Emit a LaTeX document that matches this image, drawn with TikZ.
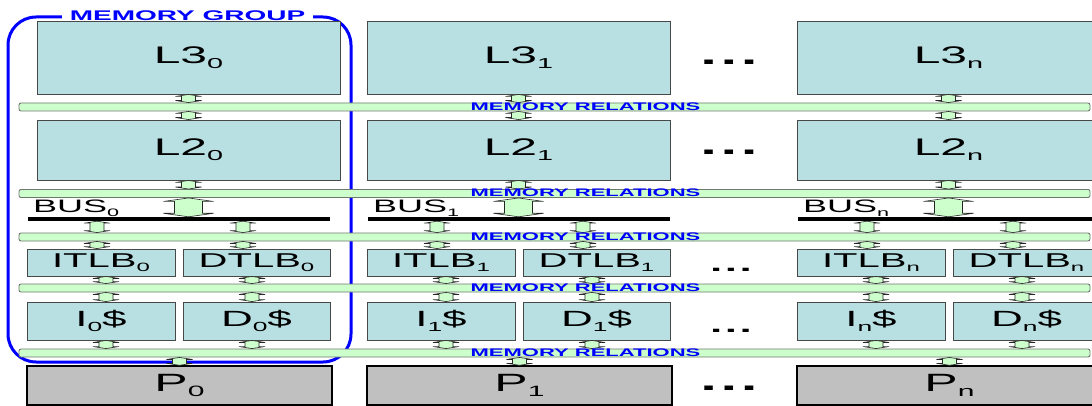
\documentclass[tikz,border=0pt]{standalone}
\usepackage{fontspec}
\setmainfont{Liberation Sans}
\usetikzlibrary{calc}

\definecolor{cachefill}{RGB}{184,223,226}
\definecolor{cacheline}{RGB}{72,72,72}
\definecolor{relfill}{RGB}{204,255,204}
\definecolor{relline}{RGB}{110,120,110}
\definecolor{groupblue}{RGB}{0,0,255}
\definecolor{cpufill}{RGB}{192,192,192}

% horizontally stretched lettering
\newcommand\wide[1]{\scalebox{2}[1]{#1}}
\newcommand\sub[1]{\raisebox{-0.2em}{\scalebox{0.6}{#1}}}
\newcommand\dotrow{.\kern0.06em.\kern0.06em.}

% vertical double-headed block arrow from point #1 down to point #2
% #3 half width of the heads, #4 half width of the shaft, #5 head depth
\newcommand\vlink[5]{%
  \path[linkarrow] let \p1=#1, \p2=#2 in
    (\x1,\y1) -- (\x1+#3,\y1-#5) -- (\x1+#4,\y1-#5) -- (\x1+#4,\y2+#5)
    -- (\x1+#3,\y2+#5) -- (\x1,\y2) -- (\x1-#3,\y2+#5) -- (\x1-#4,\y2+#5)
    -- (\x1-#4,\y1-#5) -- (\x1-#3,\y1-#5) -- cycle;}

\begin{document}
\begin{tikzpicture}[x=1pt, y=-1pt,
  cache/.style={draw=cacheline, fill=cachefill, line width=0.9pt, inner sep=0pt,
    font=\fontsize{24}{24}\selectfont},
  tlbcache/.style={cache, font=\fontsize{20}{20}\selectfont},
  l1cache/.style={cache, font=\fontsize{22}{22}\selectfont},
  cpu/.style={draw=black, fill=cpufill, line width=1.4pt, inner sep=0pt,
    font=\fontsize{25}{25}\selectfont},
  relbar/.style={draw=relline, fill=relfill, line width=0.9pt, rounded corners=2pt,
    minimum width=1071pt, minimum height=8pt, inner sep=0pt},
  rellabel/.style={text=groupblue, font=\fontsize{11}{11}\selectfont\bfseries, inner sep=0pt},
  linkarrow/.style={draw=black!85, fill=relfill, line width=0.6pt, line join=miter},
  busbar/.style={fill=black, inner sep=0pt, minimum height=4pt, minimum width=302pt},
  buslabel/.style={font=\fontsize{18}{18}\selectfont, inner sep=0pt, anchor=base west},
  groupline/.style={draw=groupblue, line width=3pt, rounded corners=28pt, inner sep=0pt},
  grouplabel/.style={fill=white, text=groupblue, font=\fontsize{14}{14}\selectfont\bfseries,
    inner xsep=8pt, inner ysep=0.5pt},
  ellipsis/.style={inner sep=0pt, font=\fontsize{30}{30}\selectfont\bfseries},
  smallellipsis/.style={inner sep=0pt, font=\fontsize{22}{22}\selectfont\bfseries}
]
\useasboundingbox (0,0) rectangle (1092,406);
\clip (0,0) rectangle (1092,406);

% memory group outline and its title
\node[groupline, minimum width=343pt, minimum height=345pt] (group) at (179.5,189.5) {};
\node[grouplabel] (group-title) at (187.5,15.5) {\wide{MEMORY GROUP}};

% memory relation bars
\node[relbar] (rel1) at (554.5,107) {};
\node[relbar] (rel2) at (554.5,193.5) {};
\node[relbar] (rel3) at (554.5,237) {};
\node[relbar] (rel4) at (554.5,288) {};
\node[relbar] (rel5) at (554.5,353) {};

% one column per processor: \ux shifts the shared levels, \lx the private ones
\foreach \col/\ux/\lx in {0/0/0, 1/330/340, n/760/770} {
  \node[cache, minimum width=303pt, minimum height=73pt] (l3-\col) at (188.5+\ux,57.5)
    {\wide{L3\sub{\col}}};
  \node[cache, minimum width=303pt, minimum height=60pt] (l2-\col) at (188.5+\ux,150)
    {\wide{L2\sub{\col}}};
  \node[busbar] (bus-\col) at (179+\lx,219) {};
  \node[buslabel] (buslbl-\col) at (33+\lx,213) {\wide{BUS\sub{\col}}};
  \node[tlbcache, minimum width=148pt, minimum height=27pt] (itlb-\col) at (101+\lx,262.5)
    {\wide{ITLB\sub{\col}}};
  \node[tlbcache, minimum width=147pt, minimum height=27pt] (dtlb-\col) at (256.5+\lx,262.5)
    {\wide{DTLB\sub{\col}}};
  \node[l1cache, minimum width=148pt, minimum height=38pt] (ic-\col) at (101+\lx,321)
    {\wide{I\sub{\col}\$}};
  \node[l1cache, minimum width=147pt, minimum height=38pt] (dc-\col) at (256.5+\lx,321)
    {\wide{D\sub{\col}\$}};
  \node[cpu, minimum width=305pt, minimum height=39pt] (p-\col) at (179.5+\lx,385.5)
    {\wide{P\sub{\col}}};

  % x positions of the links in the private levels
  \coordinate (ta-\col) at (97+\lx,0);
  \coordinate (tb-\col) at (243+\lx,0);
  \coordinate (ca-\col) at (106+\lx,0);
  \coordinate (cb-\col) at (252+\lx,0);

  % shared levels
  \vlink{(l3-\col.south)}{(l3-\col.south |- rel1.north)}{13pt}{7pt}{2pt}
  \vlink{(l2-\col.north |- rel1.south)}{(l2-\col.north)}{13pt}{7pt}{2pt}
  \vlink{(l2-\col.south)}{(l2-\col.south |- rel2.north)}{13pt}{7pt}{2pt}
  \vlink{(l2-\col.south |- rel2.south)}{(l2-\col.south |- bus-\col.north)}{25pt}{14pt}{3.5pt}

  % bus to translation buffers
  \vlink{(ta-\col |- bus-\col.south)}{(ta-\col |- rel3.north)}{13pt}{7pt}{2pt}
  \vlink{(tb-\col |- bus-\col.south)}{(tb-\col |- rel3.north)}{13pt}{7pt}{2pt}
  \vlink{(ta-\col |- rel3.south)}{(ta-\col |- itlb-\col.north)}{13pt}{7pt}{2pt}
  \vlink{(tb-\col |- rel3.south)}{(tb-\col |- dtlb-\col.north)}{13pt}{7pt}{2pt}

  % translation buffers to first-level caches
  \vlink{(ca-\col |- itlb-\col.south)}{(ca-\col |- rel4.north)}{13pt}{7pt}{2pt}
  \vlink{(cb-\col |- dtlb-\col.south)}{(cb-\col |- rel4.north)}{13pt}{7pt}{2pt}
  \vlink{(ca-\col |- rel4.south)}{(ca-\col |- ic-\col.north)}{13pt}{7pt}{2pt}
  \vlink{(cb-\col |- rel4.south)}{(cb-\col |- dc-\col.north)}{13pt}{7pt}{2pt}

  % first-level caches to the processor
  \vlink{(ca-\col |- ic-\col.south)}{(ca-\col |- rel5.north)}{13pt}{7pt}{2pt}
  \vlink{(cb-\col |- dc-\col.south)}{(cb-\col |- rel5.north)}{13pt}{7pt}{2pt}
  \vlink{(p-\col.north |- rel5.south)}{(p-\col.north)}{13pt}{7pt}{2pt}
}

% bar titles
\node[rellabel] (rel1-title) at (585.5,106.5) {\wide{MEMORY RELATIONS}};
\node[rellabel] (rel2-title) at (585.5,193) {\wide{MEMORY RELATIONS}};
\node[rellabel] (rel3-title) at (585.5,236.5) {\wide{MEMORY RELATIONS}};
\node[rellabel] (rel4-title) at (585.5,287.5) {\wide{MEMORY RELATIONS}};
\node[rellabel] (rel5-title) at (585.5,352.5) {\wide{MEMORY RELATIONS}};

% elided columns
\node[ellipsis] (more-l3) at (729,62) {\wide{\dotrow}};
\node[ellipsis] (more-l2) at (729,152) {\wide{\dotrow}};
\node[smallellipsis] (more-tlb) at (731,270) {\wide{\dotrow}};
\node[smallellipsis] (more-l1) at (731,331) {\wide{\dotrow}};
\node[ellipsis] (more-p) at (729,388) {\wide{\dotrow}};
\end{tikzpicture}
\end{document}
